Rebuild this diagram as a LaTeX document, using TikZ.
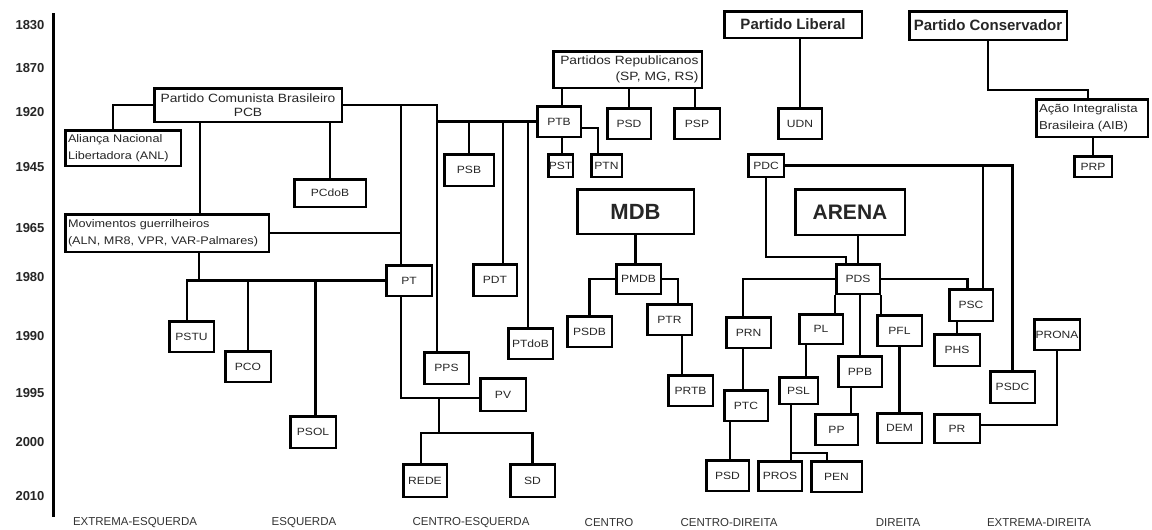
\documentclass[tikz,border=0pt]{standalone}
\usepackage{fontspec}
\setmainfont{Liberation Sans}
\newfontfamily\bxfont{Liberation Sans}[FakeStretch=1.15]
\begin{document}
\begin{tikzpicture}[x=1pt,y=-1pt,
  box/.style={draw, line width=2.5pt, inner sep=0pt, text=black!85,
    font=\bxfont\fontsize{10.5}{12}\selectfont},
  longbox/.style={box, font=\bxfont\fontsize{11}{17}\selectfont},
  titlebox/.style={box, font=\bfseries\fontsize{15}{17}\selectfont},
  bigbox/.style={box, font=\bfseries\fontsize{22}{24}\selectfont},
  sz/.style 2 args={minimum width=#1pt, minimum height=#2pt},
  ln/.style={line width=2.3pt},
  yr/.style={font=\bfseries\fontsize{13}{15}\selectfont, text=black!85},
  side/.style={font=\fontsize{11.5}{13}\selectfont, text=black!80}]
\useasboundingbox (0,0) rectangle (1152,530);
\fill[white] (0,0) rectangle (1152,530);

% time axis
\draw[line width=3pt] (53,13) -- (53,517);
\foreach \yy/\yl in {25/1830,68/1870,112/1920,167/1945,228/1965,277/1980,336/1990,393/1995,442/2000,496/2010}
  \node[yr] at (30,\yy) {\yl};

% spectrum labels
\node[side] (l1) at (135,523) {EXTREMA-ESQUERDA};
\node[side] (l2) at (304,523) {ESQUERDA};
\node[side] (l3) at (471,523) {CENTRO-ESQUERDA};
\node[side] (l4) at (609,523) {CENTRO};
\node[side] (l5) at (729,523) {CENTRO-DIREITA};
\node[side] (l6) at (898,523) {DIREITA};
\node[side] (l7) at (1039,523) {EXTREMA-DIREITA};

% boxes
\node[box,sz={187.5}{33.5},align=center,font=\bxfont\fontsize{12}{14}\selectfont] (pcb) at (248,105) {Partido Comunista Brasileiro\\PCB};
\node[longbox,sz={115.5}{35.5},text width=110pt,align=left] (anl) at (123,148) {Aliança Nacional\\Libertadora (ANL)};
\node[longbox,sz={203.5}{37.5},text width=198pt,align=left] (mov) at (167,233) {Movimentos guerrilheiros\\(ALN, MR8, VPR, VAR-Palmares)};
\node[box,sz={71.5}{27.5}] (pcdob) at (330,193) {PCdoB};
\node[box,sz={44.5}{30.5}] (pstu) at (191.5,336.5) {PSTU};
\node[box,sz={45.5}{30.5}] (pco) at (248,366.5) {PCO};
\node[box,sz={45.5}{31.5}] (psol) at (313,432) {PSOL};
\node[box,sz={45.5}{30.5}] (pt) at (409,280.5) {PT};
\node[box,sz={44.5}{31.5}] (pps) at (446.5,368) {PPS};
\node[box,sz={45.5}{32.5}] (pv) at (503,394.5) {PV};
\node[box,sz={43.5}{32.5}] (rede) at (425,480.5) {REDE};
\node[box,sz={44.5}{32.5}] (sd) at (532.5,480.5) {SD};
\node[box,sz={49.5}{31.5}] (psb) at (469,170) {PSB};
\node[box,sz={43.5}{31.5}] (pdt) at (495,280) {PDT};
\node[box,sz={44.5}{30.5}] (ptdob) at (530.5,343.5) {PTdoB};
\node[box,sz={43.5}{30.5}] (ptb) at (559,121.5) {PTB};
\node[box,sz={148.5}{36.5},text width=142pt,align=right,font=\bxfont\fontsize{12}{16}\selectfont] (rep) at (627.5,69.5) {Partidos Republicanos\\(SP, MG, RS)};
\node[box,sz={43.5}{30.5}] (psda) at (629,123.5) {PSD};
\node[box,sz={45.5}{30.5}] (psp) at (697,123.5) {PSP};
\node[box,sz={24.5}{22.5}] (pst) at (560.5,165.5) {PST};
\node[box,sz={30.5}{22.5}] (ptn) at (606.5,165.5) {PTN};
\node[bigbox,sz={116.5}{44.5}] (mdb) at (635.5,211.5) {MDB};
\node[box,sz={44.5}{29.5}] (pmdb) at (638.5,279) {PMDB};
\node[box,sz={44.5}{30.5}] (psdb) at (589.5,331.5) {PSDB};
\node[box,sz={44.5}{30.5}] (ptr) at (669.5,319.5) {PTR};
\node[box,sz={44.5}{30.5}] (prtb) at (690.5,390.5) {PRTB};
\node[titlebox,sz={137.5}{26.5}] (lib) at (793,24.5) {Partido Liberal};
\node[box,sz={43.5}{30.5}] (udn) at (800,123.5) {UDN};
\node[titlebox,sz={157.5}{28.5}] (cons) at (988,25.5) {Partido Conservador};
\node[box,sz={111.5}{37.5},text width=106pt,align=left,font=\bxfont\fontsize{11.5}{17}\selectfont] (aib) at (1092,118) {Ação Integralista\\Brasileira (AIB)};
\node[box,sz={37.5}{20.5}] (prp) at (1093,166.5) {PRP};
\node[box,sz={35.5}{22.5}] (pdc) at (766,165.5) {PDC};
\node[bigbox,sz={109.5}{45.5},font=\bfseries\fontsize{21}{23}\selectfont] (arena) at (850,212) {ARENA};
\node[box,sz={43.5}{29.5}] (pds) at (858,279) {PDS};
\node[box,sz={44.5}{30.5}] (prn) at (748.5,332.5) {PRN};
\node[box,sz={43.5}{31.5}] (psc) at (971,305) {PSC};
\node[box,sz={45.5}{31.5}] (phs) at (957,350) {PHS};
\node[box,sz={44.5}{31.5}] (psdc) at (1012.5,387) {PSDC};
\node[box,sz={43.5}{29.5}] (pl) at (821,329) {PL};
\node[box,sz={43.5}{30.5}] (ppb) at (860,371.5) {PPB};
\node[box,sz={44.5}{30.5}] (pfl) at (899.5,330.5) {PFL};
\node[box,sz={38.5}{26.5}] (psl) at (798.5,390.5) {PSL};
\node[box,sz={42.5}{30.5}] (pp) at (836.5,429.5) {PP};
\node[box,sz={44.5}{29.5}] (dem) at (899.5,428) {DEM};
\node[box,sz={43.5}{29.5}] (pros) at (780,476) {PROS};
\node[box,sz={50.5}{30.5}] (pen) at (836.5,476.5) {PEN};
\node[box,sz={43.5}{30.5}] (ptc) at (746,405.5) {PTC};
\node[box,sz={42.5}{30.5}] (psdb2) at (727.5,475.5) {PSD};
\node[box,sz={45.5}{30.5}] (prona) at (1057,334.5) {PRONA};
\node[box,sz={45.5}{28.5}] (pr) at (957,428.5) {PR};

% junction coordinates
\coordinate (jpt) at ([xshift=-8pt]pt.north);
\coordinate (jpps) at ([xshift=-9.5pt]pps.north);
\coordinate (jpv) at ([yshift=-3.5pt]pv.west);
\coordinate (jred) at (439,433);
\coordinate (jaib) at (988,90);
\coordinate (jpdc) at (766,257);
\coordinate (jpsl) at (791,453);

% connectors: left side
\draw[ln] ([xshift=-10pt]anl.north) |- (pcb.west);
\draw[ln] ([xshift=-48pt]pcb.south) -- ([xshift=-48pt]pcb.south |- mov.north);
\draw[ln] (pcdob.north) -- (pcdob.north |- pcb.south);
\draw[ln] (pcb.east) -| (jpps);
\draw[ln] (jpt) -- (jpt |- pcb.east);
\draw[ln] (mov.east) -- (mov.east -| jpt);
\draw[ln] ([xshift=32pt]mov.south) -- ([xshift=32pt]mov.south |- pt.west);
\draw[ln] (pt.west) -| ([xshift=-4.5pt]pstu.north);
\draw[ln] (pco.north) -- (pco.north |- pt.west);
\draw[ln] ([xshift=2.5pt]psol.north) -- ([xshift=2.5pt]psol.north |- pt.west);
\draw[ln] ([xshift=-8pt]pt.south) |- (jpv);
\draw[ln] (jred) -- (jred |- jpv);
\draw[ln] ([xshift=-4pt]rede.north) |- (jred);
\draw[ln] (sd.north) |- (jred);

% PTB group
\draw[ln] (ptb.west) -- (ptb.west -| jpps);
\draw[ln] (psb.north) -- (psb.north |- ptb.west);
\draw[ln] ([xshift=8pt]pdt.north) -- ([xshift=8pt]pdt.north |- ptb.west);
\draw[ln] ([xshift=-2.5pt]ptdob.north) -- ([xshift=-2.5pt]ptdob.north |- ptb.west);
\draw[ln] ([xshift=3pt]ptb.north) -- ([xshift=3pt]ptb.north |- rep.south);
\draw[ln] (psda.north) -- (psda.north |- rep.south);
\draw[ln] ([xshift=-2pt]psp.north) -- ([xshift=-2pt]psp.north |- rep.south);
\draw[ln] ([xshift=1.5pt]pst.north) -- ([xshift=1.5pt]pst.north |- ptb.south);
\draw[ln] ([yshift=-6.5pt]ptb.east) -| ([xshift=-8.5pt]ptn.north);

% MDB group
\draw[ln] (mdb.south) -- (mdb.south |- pmdb.north);
\draw[ln] (pmdb.west) -| (psdb.north);
\draw[ln] (pmdb.east) -| ([xshift=8.5pt]ptr.north);
\draw[ln] ([xshift=-8.5pt]prtb.north) -- ([xshift=-8.5pt]prtb.north |- ptr.south);

% right side
\draw[ln] (udn.north) -- (udn.north |- lib.south);
\draw[ln] (cons.south) -- (jaib) -| ([xshift=-4pt]aib.north);
\draw[ln] (prp.north) -- (prp.north |- aib.south);
\draw[ln] (pdc.east) -| (psdc.north);
\draw[ln] ([xshift=12pt]psc.north) -- ([xshift=12pt]psc.north |- pdc.east);
\draw[ln] (pdc.south) -- (jpdc) -| ([xshift=-12pt]pds.north);
\draw[ln] (pds.north) -- (pds.north |- arena.south);
\draw[ln] (pds.west) -| ([xshift=-5.5pt]prn.north);
\draw[ln] (pds.east) -| ([xshift=-3.5pt]psc.north);
\draw[ln] (phs.north) -- (phs.north |- psc.south);
\draw[ln] (pds.south west) -- (pds.south west |- pl.north);
\draw[ln] (ppb.north) -- (ppb.north |- pds.south);
\draw[ln] (pds.south east) -- (pds.south east |- pfl.north);
\draw[ln] ([xshift=7.5pt]psl.north) -- ([xshift=7.5pt]psl.north |- pl.south);
\draw[ln] ([xshift=14.5pt]pp.north) -- ([xshift=14.5pt]pp.north |- ppb.south);
\draw[ln] (dem.north) -- (dem.north |- pfl.south);
\draw[ln] ([xshift=-7.5pt]psl.south) -- ([xshift=-7.5pt]psl.south |- pros.north);
\draw[ln] (jpsl) -| ([xshift=-9.5pt]pen.north);
\draw[ln] ([xshift=-3pt]ptc.north) -- ([xshift=-3pt]ptc.north |- prn.south);
\draw[ln] ([xshift=2.5pt]psdb2.north) -- ([xshift=2.5pt]psdb2.north |- ptc.south);
\draw[ln] (prona.south) |- ([yshift=3.5pt]pr.east);
\end{tikzpicture}
\end{document}
